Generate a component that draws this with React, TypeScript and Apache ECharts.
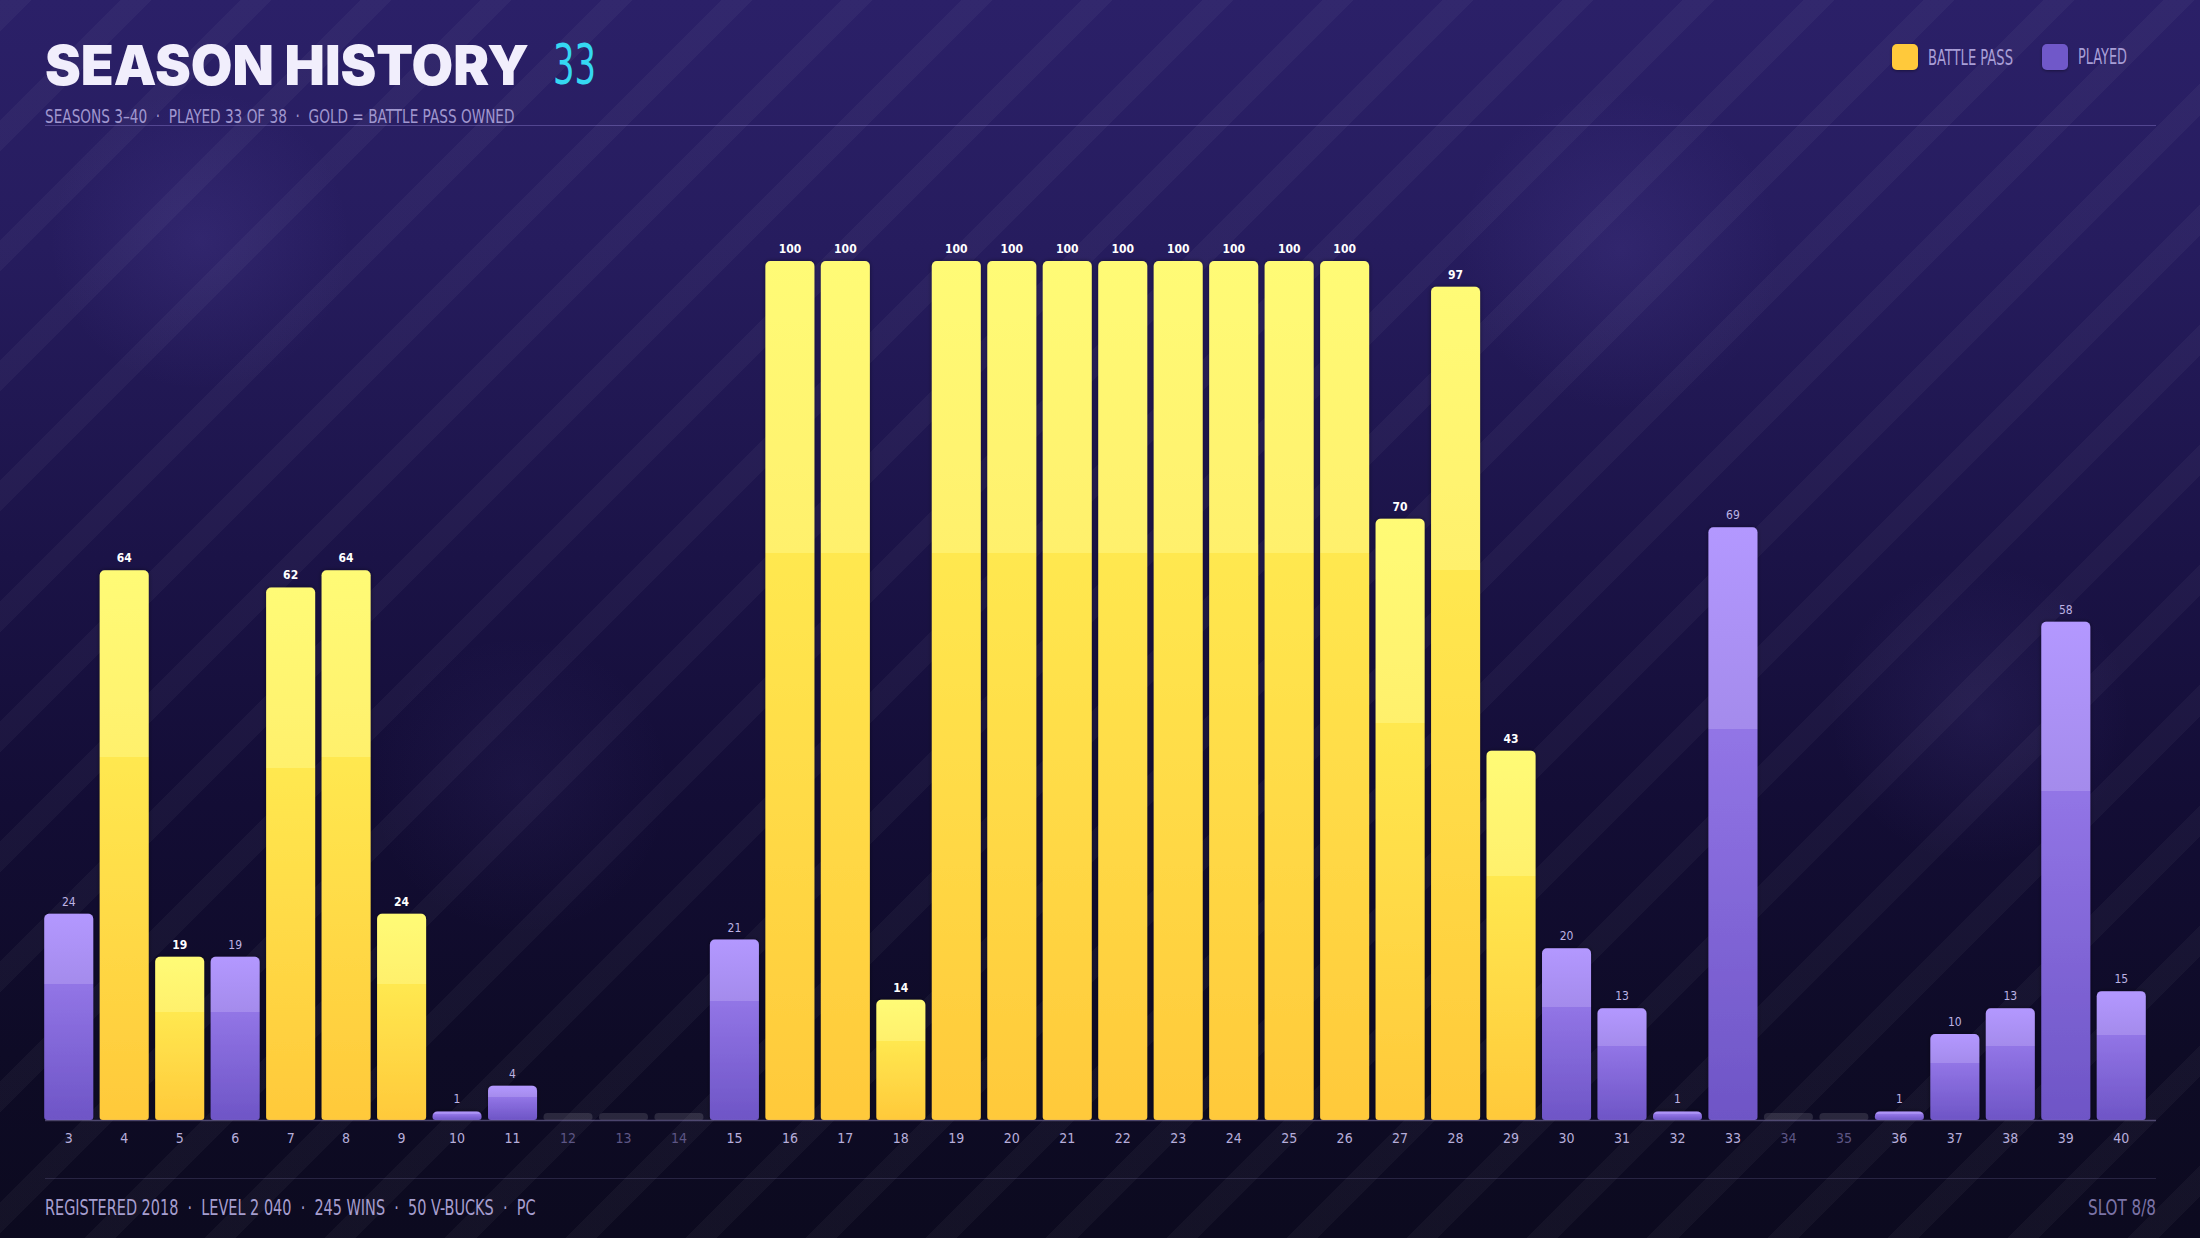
import React, { useEffect, useRef } from "react";
import * as echarts from "echarts";

const seasons = ["3","4","5","6","7","8","9","10","11","12","13","14","15","16","17","18","19","20","21","22","23","24","25","26","27","28","29","30","31","32","33","34","35","36","37","38","39","40"];
const levels = [24,64,19,19,62,64,24,1,4,0,0,0,21,100,100,14,100,100,100,100,100,100,100,100,70,97,43,20,13,1,69,0,0,1,10,13,58,15];
const battlePass = [0,1,1,0,1,1,1,0,0,0,0,0,0,1,1,1,1,1,1,1,1,1,1,1,1,1,1,0,0,0,0,0,0,0,0,0,0,0];
const played = [1,1,1,1,1,1,1,1,1,0,0,0,1,1,1,1,1,1,1,1,1,1,1,1,1,1,1,1,1,1,1,0,0,1,1,1,1,1];

const titleText = "SEASON HISTORY";
const titleNumber = "33";
const subtitleText = "SEASONS 3–40 \u00a0·\u00a0 PLAYED 33 OF 38 \u00a0·\u00a0 GOLD = BATTLE PASS OWNED";
const footerText = "REGISTERED 2018 \u00a0·\u00a0 LEVEL 2 040 \u00a0·\u00a0 245 WINS \u00a0·\u00a0 50 V-BUCKS \u00a0·\u00a0 PC";
const footerRight = "SLOT 8/8";
const legendItems = ["BATTLE PASS", "PLAYED"];

const COND = "'DejaVu Sans Condensed', 'DejaVu Sans', sans-serif";
const HEAVY = "Inter, 'Noto Sans', sans-serif";

const gold = new echarts.graphic.LinearGradient(0, 0, 0, 1, [
  { offset: 0, color: "#fffb76" },
  { offset: 0.34, color: "#fff06c" },
  { offset: 0.34, color: "#ffe850" },
  { offset: 1, color: "#ffc93a" },
]);
const violet = new echarts.graphic.LinearGradient(0, 0, 0, 1, [
  { offset: 0, color: "#b398ff" },
  { offset: 0.34, color: "#a48bec" },
  { offset: 0.34, color: "#9275e6" },
  { offset: 1, color: "#6e55c6" },
]);

let measureCtx: CanvasRenderingContext2D | null = null;
function measure(text: string, font: string): number {
  if (!measureCtx) measureCtx = document.createElement("canvas").getContext("2d");
  if (!measureCtx) return 0;
  measureCtx.font = font;
  return measureCtx.measureText(text).width;
}

function fitText(
  text: string,
  x: number,
  y: number,
  size: number,
  family: string,
  weight: string | number,
  width: number,
  fill: string,
  align: string = "left"
) {
  const w = measure(text, `normal ${weight} ${size}px ${family}`);
  const sx = w > 0 ? width / w : 1;
  return {
    type: "text",
    x,
    y,
    scaleX: sx,
    scaleY: 1,
    style: {
      text,
      x: 0,
      y: 0,
      fill,
      fontSize: size,
      fontWeight: weight,
      fontFamily: family,
      textAlign: align,
      textVerticalAlign: "middle",
    },
  };
}

export default function App() {
  const ref = useRef<HTMLDivElement>(null);

  useEffect(() => {
    document.body.style.margin = "0";
    if (!ref.current) return;
    const chart = echarts.init(ref.current, undefined, { renderer: "svg" });

    const data = levels.map((v, i) => {
      if (!played[i]) {
        return {
          value: v,
          itemStyle: { color: "rgba(255,255,255,0.12)", shadowBlur: 0, borderRadius: [4, 4, 2, 2] },
          label: { show: false },
        };
      }
      const bp = battlePass[i] === 1;
      return {
        value: v,
        itemStyle: { color: bp ? gold : violet },
        label: {
          show: true,
          color: bp ? "#ffffff" : "#bdb3e4",
          fontWeight: bp ? "bold" : "normal",
        },
      };
    });

    const option: any = {
      animation: false,
      backgroundColor: "transparent",
      grid: { left: 41, right: 51, top: 261, bottom: 118, containLabel: false },
      xAxis: {
        type: "category",
        data: seasons,
        axisLine: { show: false },
        axisTick: { show: false },
        splitLine: { show: false },
        axisLabel: {
          interval: 0,
          margin: 11,
          fontSize: 14,
          fontFamily: COND,
          color: (val: string, idx: number) => (played[idx] ? "#b7aedb" : "#5d5685"),
        },
      },
      yAxis: {
        type: "value",
        min: 0,
        max: 100,
        show: false,
        splitLine: { show: false },
      },
      series: [
        {
          type: "bar",
          data,
          barWidth: 49,
          barMinHeight: 7,
          itemStyle: {
            borderRadius: [5, 5, 3, 3],
            shadowColor: "rgba(0,0,0,0.45)",
            shadowBlur: 4,
          },
          label: {
            show: true,
            position: "top",
            distance: 6,
            fontSize: 12,
            fontFamily: COND,
          },
        },
      ],
      graphic: [
        fitText(titleText, 45, 65, 55, HEAVY, 900, 484, "#f1eefc"),
        fitText(titleNumber, 553, 64, 55, COND, "normal", 43, "#35d8f2"),
        fitText(subtitleText, 45, 116.5, 19, COND, "normal", 470, "#a097cf"),
        {
          type: "line",
          shape: { x1: 45, y1: 125.5, x2: 2156, y2: 125.5 },
          style: { stroke: "rgba(160,145,230,0.35)", lineWidth: 1 },
        },
        {
          type: "rect",
          shape: { x: 1892, y: 44, width: 26, height: 26, r: 5 },
          style: { fill: "#ffc93a", shadowColor: "rgba(0,0,0,0.4)", shadowBlur: 3, shadowOffsetY: 1 },
        },
        fitText(legendItems[0], 1928, 57.5, 20.5, COND, "normal", 85, "#a89ed6"),
        {
          type: "rect",
          shape: { x: 2042, y: 44, width: 26, height: 26, r: 5 },
          style: { fill: "#6f58c9", shadowColor: "rgba(0,0,0,0.4)", shadowBlur: 3, shadowOffsetY: 1 },
        },
        fitText(legendItems[1], 2078, 57.5, 20.5, COND, "normal", 49, "#a89ed6"),
        {
          type: "line",
          shape: { x1: 45, y1: 1120.5, x2: 2156, y2: 1120.5 },
          style: { stroke: "rgba(150,140,200,0.45)", lineWidth: 1.5 },
          z: 10,
        },
        {
          type: "line",
          shape: { x1: 45, y1: 1178.5, x2: 2156, y2: 1178.5 },
          style: { stroke: "rgba(150,140,200,0.2)", lineWidth: 1 },
        },
        fitText(footerText, 45, 1207.5, 21, COND, "normal", 491, "#a69ecf"),
        fitText(footerRight, 2156, 1207.5, 21, COND, "normal", 68, "#7b73a6", "right"),
      ],
    };

    chart.setOption(option);
    return () => chart.dispose();
  }, []);

  const bg = [
    "repeating-linear-gradient(135deg, rgba(255,255,255,0.035) 0px, rgba(255,255,255,0.035) 22px, rgba(255,255,255,0) 22px, rgba(255,255,255,0) 85px)",
    "radial-gradient(circle at 200px 240px, rgba(130,110,220,0.12) 0px, rgba(130,110,220,0) 150px)",
    "radial-gradient(circle at 1620px 250px, rgba(130,110,220,0.12) 0px, rgba(130,110,220,0) 160px)",
    "radial-gradient(circle at 1980px 715px, rgba(130,110,220,0.10) 0px, rgba(130,110,220,0) 150px)",
    "radial-gradient(circle at 520px 785px, rgba(130,110,220,0.07) 0px, rgba(130,110,220,0) 150px)",
    "linear-gradient(180deg, #2b2068 0%, #261c5e 20%, #1b1347 45%, #130d35 65%, #0e0b26 85%, #0c0a1f 100%)",
  ].join(", ");

  return (
    <div
      style={{
        position: "absolute",
        left: 0,
        top: 0,
        width: 2200,
        height: 1238,
        background: bg,
        overflow: "hidden",
      }}
    >
      <div ref={ref} style={{ width: 2200, height: 1238 }} />
    </div>
  );
}
